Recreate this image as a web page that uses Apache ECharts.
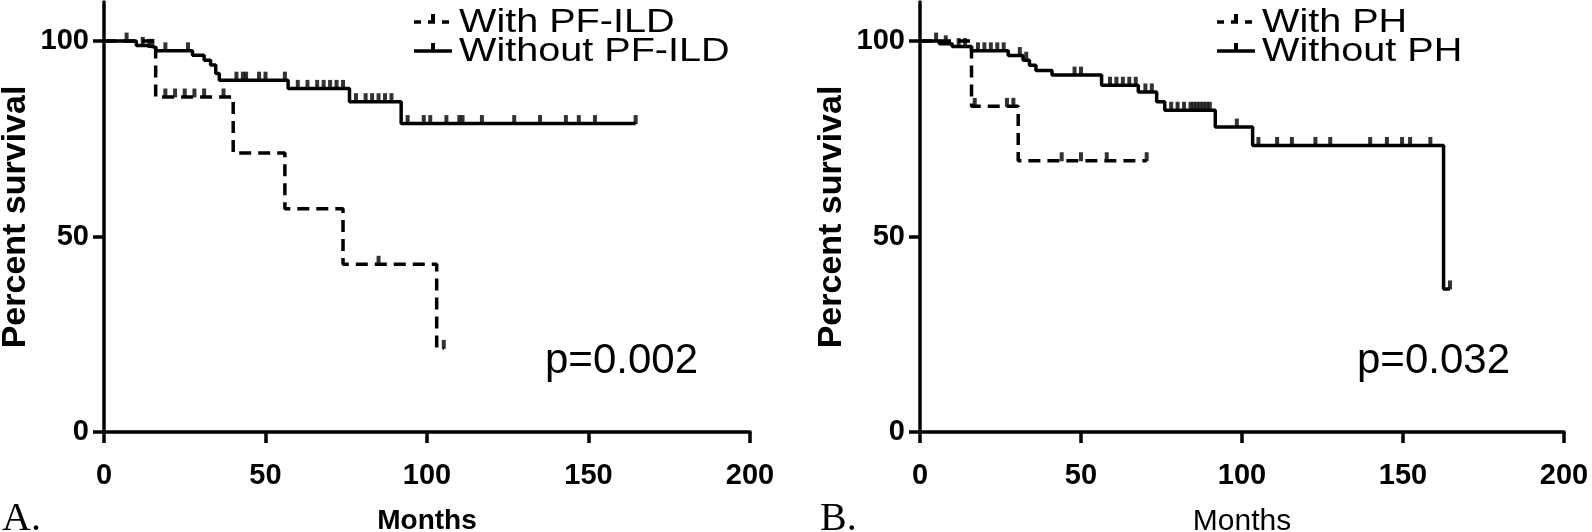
<!DOCTYPE html>
<html><head><meta charset="utf-8">
<script src="https://cdn.jsdelivr.net/npm/echarts@6/dist/echarts.min.js"></script>
<style>html,body{margin:0;padding:0;background:#fff}#c{width:1592px;height:532px}</style>
</head><body><div id="c"></div>
<script>
// ---- data ----
const xTicks = [0, 50, 100, 150, 200];
const yTicks = [0, 50, 100];

const leftWithTimes = [0, 16, 40, 56, 74, 103, 105.2];
const leftWithSurv = [100, 85.7, 71.4, 57.1, 42.9, 21.4, 21.4];
const leftWithCensor = [19, 22, 25, 28, 31, 37, 85, 105.2];

const leftWithoutTimes = [0, 10, 13, 16, 27.4, 31, 33, 34.6, 35.7, 57, 76, 92, 164.6];
const leftWithoutSurv = [100, 98.9, 98.4, 97.5, 96.4, 95.1, 93.9, 91.7, 90, 87.9, 84.5, 78.9, 78.9];
const leftWithoutCensor = [7, 12, 14, 15, 19, 26, 41, 43, 44, 48, 50, 56, 60, 63, 66, 68, 70, 72, 74, 78, 81, 83, 85, 87, 89, 94, 99, 101, 106, 110, 111, 117, 127, 135, 143, 147, 152, 164.6];

const rightWithTimes = [0, 16, 30.5, 70.4];
const rightWithSurv = [100, 83.3, 69.4, 69.4];
const rightWithCensor = [17, 27, 29, 44, 50, 58, 70.4];

const rightWithoutTimes = [0, 6, 10, 16, 27.4, 32, 34, 36, 41, 56.4, 67.8, 73.5, 76, 91.7, 103.3, 162.6, 164.6];
const rightWithoutSurv = [100, 99.3, 98.6, 97.5, 96.3, 95.1, 93.8, 92.5, 91.3, 88.7, 87, 84.5, 82.3, 78, 73.3, 36.6, 36.6];
const rightWithoutCensor = [5, 8, 12, 14, 18, 20, 22, 24, 26, 31, 33, 48, 50, 59, 61, 63, 65, 67, 70, 72, 78, 80, 82, 84, 85, 86, 87, 88, 89, 90, 98.4, 105.1, 110.9, 115.5, 122.8, 127.4, 139.8, 145, 149.7, 152.2, 158.5, 164.6];

const legendLeft = ['With PF-ILD', 'Without PF-ILD'];
const legendRight = ['With PH', 'Without PH'];
const pLeft = 'p=0.002';
const pRight = 'p=0.032';

// ---- helpers ----
const SANS = "'Liberation Sans', Arial, sans-serif";
function pairs(t, s) { return t.map((v, i) => [v, s[i]]); }
function survAt(t, s, x) { let v = s[0]; for (let i = 0; i < t.length; i++) if (t[i] <= x) v = s[i]; return v; }
function censorPts(t, s, c) { return c.map(x => [x, survAt(t, s, x)]); }

function xAxis(gi, bold) {
  return {
    type: 'value', gridIndex: gi, min: 0, max: 200, interval: 50,
    name: 'Months', nameLocation: 'middle', nameGap: 75,
    nameTextStyle: { fontSize: bold ? 28 : 30, fontWeight: bold ? 'bold' : 'normal', color: '#000', fontFamily: SANS },
    axisLine: { lineStyle: { color: '#000', width: 3.5 } },
    axisTick: { length: 11, lineStyle: { color: '#000', width: 3.5 } },
    axisLabel: { fontSize: 29, fontWeight: 'bold', color: '#000', margin: 29, fontFamily: SANS, customValues: xTicks },
    splitLine: { show: false }
  };
}
function yAxis(gi) {
  return {
    type: 'value', gridIndex: gi, min: 0, max: 110, interval: 50,
    name: 'Percent survival', nameLocation: 'middle', nameGap: 71,
    nameTextStyle: { fontSize: 34, fontWeight: 'bold', color: '#000', fontFamily: SANS },
    axisLine: { lineStyle: { color: '#000', width: 3.5 } },
    axisTick: { length: 11, lineStyle: { color: '#000', width: 3.5 }, customValues: yTicks },
    axisLabel: { fontSize: 29, fontWeight: 'bold', color: '#000', margin: 15, fontFamily: SANS, customValues: yTicks },
    splitLine: { show: false }
  };
}
function curve(gi, t, s, dashed) {
  return {
    type: 'line', xAxisIndex: gi, yAxisIndex: gi, step: 'end', showSymbol: false, symbol: 'none',
    data: pairs(t, s), lineStyle: { color: '#000', width: 3.5, type: dashed ? [12, 7] : 'solid' }, z: 2
  };
}
function censor(gi, t, s, c) {
  return {
    type: 'scatter', xAxisIndex: gi, yAxisIndex: gi, data: censorPts(t, s, c),
    symbol: 'rect', symbolSize: [4, 9], symbolOffset: [0, -4], itemStyle: { color: '#000' }, z: 3
  };
}
function legendItem(x, y, dashed, text) {
  const els = [];
  els.push({ type: 'line', shape: { x1: x, y1: y, x2: x + 38, y2: y }, style: { stroke: '#000', lineWidth: 3.5, lineDash: dashed ? [7, 7] : null } });
  els.push({ type: 'rect', shape: { x: x + 17, y: y - 8, width: 4, height: 8 }, style: { fill: '#000' } });
  els.push({ type: 'text', x: x + 45, y: y + 1, scaleX: 1.2, style: { text: text, fontSize: 33, fontFamily: SANS, fill: '#000', verticalAlign: 'middle' } });
  return els;
}

const chart = echarts.init(document.getElementById('c'), null, { renderer: 'canvas' });
chart.setOption({
  animation: false,
  backgroundColor: '#fff',
  grid: [
    { left: 104, top: 2, width: 646, height: 430, containLabel: false, outerBoundsMode: 'none' },
    { left: 920, top: 2, width: 644, height: 430, containLabel: false, outerBoundsMode: 'none' }
  ],
  xAxis: [xAxis(0, true), xAxis(1, false)],
  yAxis: [yAxis(0), yAxis(1)],
  series: [
    curve(0, leftWithTimes, leftWithSurv, true),
    censor(0, leftWithTimes, leftWithSurv, leftWithCensor),
    curve(0, leftWithoutTimes, leftWithoutSurv, false),
    censor(0, leftWithoutTimes, leftWithoutSurv, leftWithoutCensor),
    curve(1, rightWithTimes, rightWithSurv, true),
    censor(1, rightWithTimes, rightWithSurv, rightWithCensor),
    curve(1, rightWithoutTimes, rightWithoutSurv, false),
    censor(1, rightWithoutTimes, rightWithoutSurv, rightWithoutCensor)
  ],
  graphic: [].concat(
    legendItem(414, 22, true, legendLeft[0]),
    legendItem(414, 51, false, legendLeft[1]),
    legendItem(1217, 22, true, legendRight[0]),
    legendItem(1217, 51, false, legendRight[1]),
    [
      { type: 'text', x: 545, y: 361, style: { text: pLeft, fontSize: 42, fontFamily: SANS, fill: '#000', verticalAlign: 'middle' } },
      { type: 'text', x: 1357, y: 361, style: { text: pRight, fontSize: 42, fontFamily: SANS, fill: '#000', verticalAlign: 'middle' } },
      { type: 'text', x: 2, y: 519, style: { text: 'A.', fontSize: 40, fontFamily: "'Liberation Serif', 'Times New Roman', serif", fill: '#000', verticalAlign: 'middle' } },
      { type: 'text', x: 820, y: 519, style: { text: 'B.', fontSize: 40, fontFamily: "'Liberation Serif', 'Times New Roman', serif", fill: '#000', verticalAlign: 'middle' } }
    ]
  )
});
</script>
</body></html>
